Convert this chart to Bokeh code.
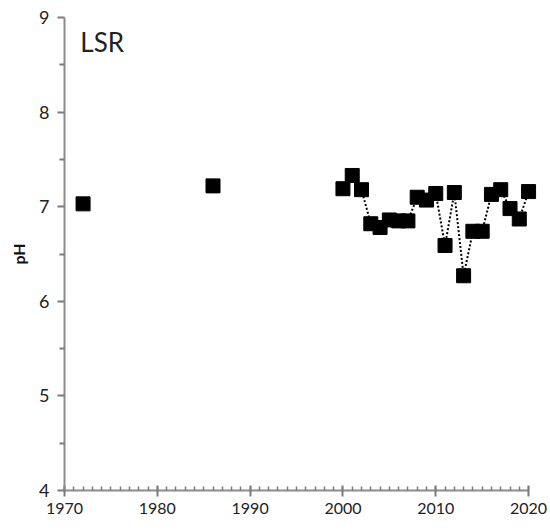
from bokeh.plotting import figure
from bokeh.models import Range1d, FixedTicker
from bokeh.core.properties import value
from bokeh.embed import file_html
from bokeh.resources import INLINE

early_years = [1972, 1986]
early_ph = [7.03, 7.22]

years = [2000, 2001, 2002, 2003, 2004, 2005, 2006, 2007, 2008, 2009, 2010,
         2011, 2012, 2013, 2014, 2015, 2016, 2017, 2018, 2019, 2020]
ph = [7.19, 7.33, 7.18, 6.82, 6.78, 6.86, 6.85, 6.85, 7.10, 7.07, 7.14,
      6.59, 7.15, 6.27, 6.74, 6.74, 7.13, 7.18, 6.98, 6.87, 7.16]

x_ticks = [1970, 1980, 1990, 2000, 2010, 2020]
y_ticks = [4, 5, 6, 7, 8, 9]
label = "LSR"

FONT = "Lato"
AXIS_COLOR = "#8c8c8c"

p = figure(width=550, height=530, output_backend="svg", toolbar_location=None,
           x_range=Range1d(1970, 2021.5), y_range=Range1d(4, 9),
           min_border_left=64, min_border_right=8, min_border_top=17, min_border_bottom=40)
p.frame_width = 478
p.frame_height = 473
p.outline_line_color = None
p.xgrid.visible = False
p.ygrid.visible = False

p.line(years, ph, line_color="black", line_width=2, line_dash="2 2")
p.scatter(early_years, early_ph, marker="square", size=14, color="black")
p.scatter(years, ph, marker="square", size=14, color="black")

p.text(x=[1971.7], y=[8.74], text=[label], text_font=value(FONT), text_font_size="26px",
       text_baseline="middle", text_align="left", text_color="#222222")

xa = p.xaxis[0]
xa.bounds = (1970, 2020)
xa.ticker = FixedTicker(ticks=x_ticks, minor_ticks=list(range(1970, 2021)))
xa.axis_line_color = AXIS_COLOR
xa.axis_line_width = 2
xa.major_tick_line_color = "#7a7a7a"
xa.major_tick_line_width = 2
xa.major_tick_in = 5
xa.major_tick_out = 6
xa.minor_tick_line_color = "#7a7a7a"
xa.minor_tick_line_width = 1.5
xa.minor_tick_in = 4
xa.minor_tick_out = 0
xa.major_label_text_font = FONT
xa.major_label_text_font_size = "16px"
xa.major_label_text_color = "#222222"
xa.major_label_standoff = 6

ya = p.yaxis[0]
ya.ticker = FixedTicker(ticks=y_ticks, minor_ticks=[4.5, 5.5, 6.5, 7.5, 8.5])
ya.axis_line_color = AXIS_COLOR
ya.axis_line_width = 2
ya.major_tick_line_color = "#7a7a7a"
ya.major_tick_line_width = 2
ya.major_tick_in = 0
ya.major_tick_out = 7
ya.minor_tick_line_color = "#7a7a7a"
ya.minor_tick_line_width = 2
ya.minor_tick_in = 0
ya.minor_tick_out = 5
ya.major_label_text_font = FONT
ya.major_label_text_font_size = "18px"
ya.major_label_text_color = "#222222"
ya.major_label_standoff = 8
ya.axis_label = "pH"
ya.axis_label_text_font = FONT
ya.axis_label_text_font_size = "16px"
ya.axis_label_text_font_style = "bold"
ya.axis_label_text_color = "#111111"
ya.axis_label_standoff = 8

open("out.html", "w").write(file_html(p, INLINE))
